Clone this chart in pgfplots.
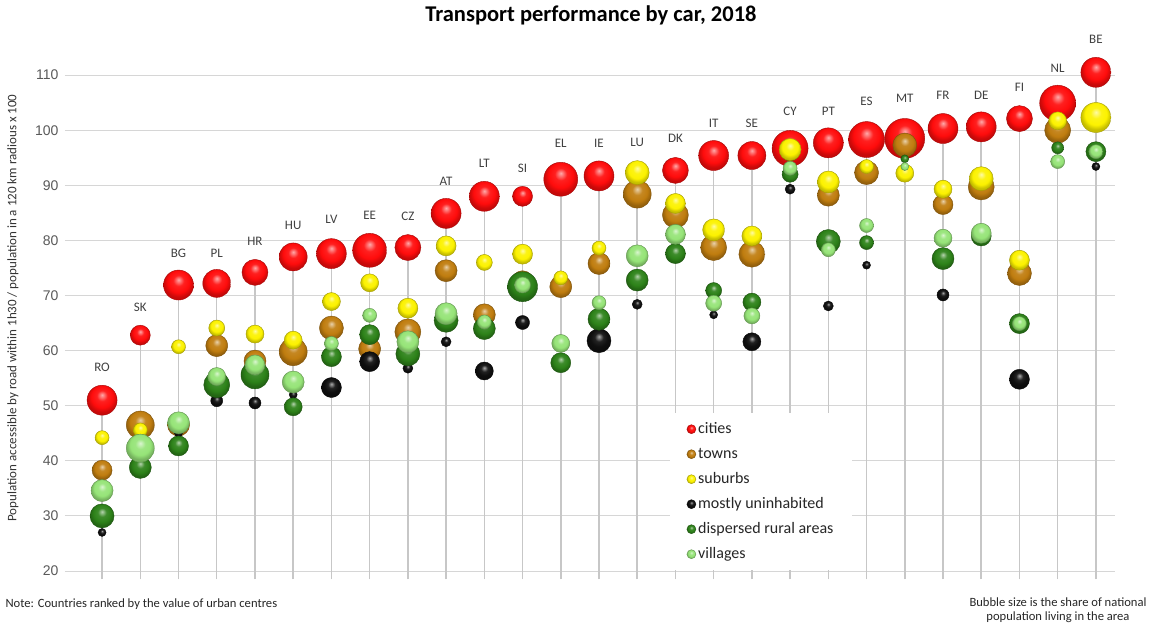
\documentclass[border=0pt]{standalone}
\usepackage{pgfplots}
\pgfplotsset{compat=1.18}
\usepackage{pgfplotstable}
\usepackage{fontspec}
\setmainfont{Carlito}
\newfontfamily\arial{Liberation Sans}

\definecolor{cc}{RGB}{255,12,12}
\definecolor{ct}{RGB}{192,125,15}
\definecolor{cs}{RGB}{252,242,0}
\definecolor{cu}{RGB}{15,15,15}
\definecolor{cd}{RGB}{45,130,25}
\definecolor{cv}{RGB}{150,228,120}
\colorlet{bubblecol}{red}

\pgfdeclareradialshading[bubblecol]{bubble}{\pgfpoint{0bp}{9bp}}{%
 color(0bp)=(bubblecol!35!white); color(9bp)=(bubblecol!92!white);
 color(18bp)=(bubblecol); color(25bp)=(bubblecol!78!black); color(50bp)=(bubblecol!78!black)}
\pgfdeclareplotmark{bubble}{%
 \pgfpathcircle{\pgfpointorigin}{\pgfplotmarksize}%
 \pgfshadepath{bubble}{0}%
 \pgfusepath{}%
 \pgfpathcircle{\pgfpointorigin}{\pgfplotmarksize}%
 \pgfsetstrokecolor{bubblecol!65!black}\pgfsetlinewidth{0.4pt}%
 \pgfusepath{stroke}}

\pgfplotsset{
 bub/.style={scatter, only marks, mark=bubble, forget plot,
   visualization depends on={\thisrow{#1r} \as \rad},
   scatter/@pre marker code/.code={\pgfscope\colorlet{bubblecol}{c#1}\pgfmathsetlength{\pgfplotmarksize}{\rad pt}},
   scatter/@post marker code/.code={\endpgfscope}},
 legbub/.style={only marks, mark=bubble, mark size=4.5pt, /utils/exec={\colorlet{bubblecol}{c#1}}},
}

\pgfplotstableread{
x name ly cy cr ty tr sy sr uy ur dy dr vy vr
0 RO 57.0 51.0 15 38.3 10 44.2 7 27.0 4 30.0 12 34.6 11
1 SK 67.9 62.8 10 46.5 14 45.6 7 nan 4 38.8 11 42.3 14
2 BG 77.7 71.9 15 46.5 11 60.7 7 45.0 4 42.7 10 46.9 11
3 PL 77.7 72.2 14 60.9 11 64.1 8 50.9 6 53.8 13 55.3 9
4 HR 79.9 74.2 13 58.1 11 63.0 9 50.5 6 55.6 14 57.4 10
5 HU 82.8 77.0 14 59.8 14 61.9 9 52.0 4 49.8 9 54.3 11
6 LV 83.9 77.6 15 64.1 12 68.9 9 53.3 10 58.9 10 61.3 7
7 EE 84.6 78.2 17 60.3 11 72.3 9 58.0 10 62.9 10 66.4 7
8 CZ 84.4 78.7 13 63.4 13 67.7 10 56.8 5 59.4 12 61.6 11
9 AT 90.8 84.9 15 74.5 11 79.0 10 61.6 5 65.5 12 66.7 11
10 LT 94.0 88.0 15 66.5 11 76.0 8 56.3 9 64.0 11 65.2 7
11 SI 93.1 88.0 10 72.5 11 77.5 10 65.1 7 71.6 15 71.9 8
12 EL 97.7 91.1 17 71.6 11 73.2 7 nan 4 57.8 10 61.3 9
13 IE 97.7 91.7 15 75.8 11 78.6 7 61.8 12 65.7 11 68.7 7
14 LU 97.7 92.3 11 88.4 14 92.3 12 68.4 5 72.8 11 77.2 11
15 DK 98.6 92.7 13 84.6 13 86.7 10 nan 4 77.6 10 81.1 10
16 IT 101.3 95.4 15 78.7 13 81.9 11 66.5 4 70.9 8 68.6 8
17 SE 101.3 95.4 14 77.5 13 80.8 10 61.6 9 68.8 9 66.3 8
18 CY 103.5 96.7 18 96.0 9 96.5 11 89.3 5 92.0 8 93.1 7
19 PT 103.5 97.7 15 88.2 11 90.6 11 68.1 5 79.8 12 78.3 7
20 ES 105.2 98.3 18 92.3 12 93.4 7 75.5 4 79.6 7 82.7 7
21 MT 105.7 98.5 20 97.3 12 92.2 9 nan 4 94.8 4 93.4 4
22 FR 106.3 100.3 15 86.5 10 89.3 9 70.1 6 76.7 11 80.4 9
23 DE 106.3 100.6 15 89.7 13 91.2 12 nan 4 80.8 10 81.3 10
24 FI 107.8 102.1 13 74.0 12 76.4 10 54.8 10 64.9 10 64.9 7
25 NL 111.3 104.9 18 100.0 13 101.7 9 nan 4 96.8 6 94.3 7
26 BE 116.4 110.5 15 nan 10 102.3 15 93.4 4 96.1 10 96.1 7
}\data

\begin{document}
\begin{tikzpicture}
\begin{axis}[
  at={(0pt,0pt)}, anchor=south west, scale only axis,
  width=1050pt, height=548.3pt,
  xmin=-0.97, xmax=26.5, ymin=18.5, ymax=118,
  xtick=\empty,
  ytick={30,40,...,110}, extra y ticks={20},
  extra y tick style={grid style={draw=black!45, line width=1pt}},
  ymajorgrids, major grid style={draw=black!16, line width=0.9pt},
  axis line style={draw=none},
  major tick length=0pt,
  yticklabel style={font=\arial\fontsize{14}{14}\selectfont, text=black!65, xshift=-3pt},
  /pgf/number format/assume math mode=true,
  legend style={at={(0.5762,0.3033)}, anchor=north west, draw=none, fill=white,
    inner xsep=16.5pt, inner ysep=7pt, row sep=7pt,
    font=\fontsize{16}{16}\selectfont, text=black!85,
    nodes={inner sep=2pt, text height=11pt, text depth=3pt}},
  legend cell align=left,
  legend image code/.code={\draw[#1] plot coordinates {(0.15cm,0cm)};},
]
\addplot[ycomb, draw=black!22, line width=1.5pt, mark=none, forget plot] table[x=x, y=cy]{\data};
\addplot[bub=c] table[x=x, y=cy]{\data};
\addplot[bub=t] table[x=x, y=ty]{\data};
\addplot[bub=s] table[x=x, y=sy]{\data};
\addplot[bub=u] table[x=x, y=uy]{\data};
\addplot[bub=d] table[x=x, y=dy]{\data};
\addplot[bub=v] table[x=x, y=vy]{\data};
\addplot[only marks, mark=none, forget plot, nodes near coords, point meta=explicit symbolic,
  nodes near coords style={anchor=center, font=\fontsize{13}{13}\selectfont, text=black!75}]
  table[x=x, y=ly, meta=name]{\data};
\addlegendimage{legbub=c}\addlegendentry{cities}
\addlegendimage{legbub=t}\addlegendentry{towns}
\addlegendimage{legbub=s}\addlegendentry{suburbs}
\addlegendimage{legbub=u}\addlegendentry{mostly uninhabited}
\addlegendimage{legbub=d}\addlegendentry{dispersed rural areas}
\addlegendimage{legbub=v}\addlegendentry{villages}
\end{axis}
\node[font=\bfseries\fontsize{22.5}{26}\selectfont] at (526pt,564.3pt) {Transport performance by car, 2018};
\node[rotate=90, font=\fontsize{13}{15}\selectfont, text=black!80] at (-52pt,271.3pt) {Population accessible by road within 1h30 / population in a 120 km radious x 100};
\node[anchor=west, font=\fontsize{12.6}{14}\selectfont, text=black!85] at (-63pt,-24.7pt) {Note: Countries ranked by the value of urban centres};
\node[align=center, font=\fontsize{12.6}{14.5}\selectfont, text=black!85] at (993pt,-30.7pt) {Bubble size is the share of national\\population living in the area};
\pgfresetboundingbox
\path[use as bounding box] (-65pt,-44.7pt) rectangle (1085pt,579.3pt);
\end{tikzpicture}
\end{document}
